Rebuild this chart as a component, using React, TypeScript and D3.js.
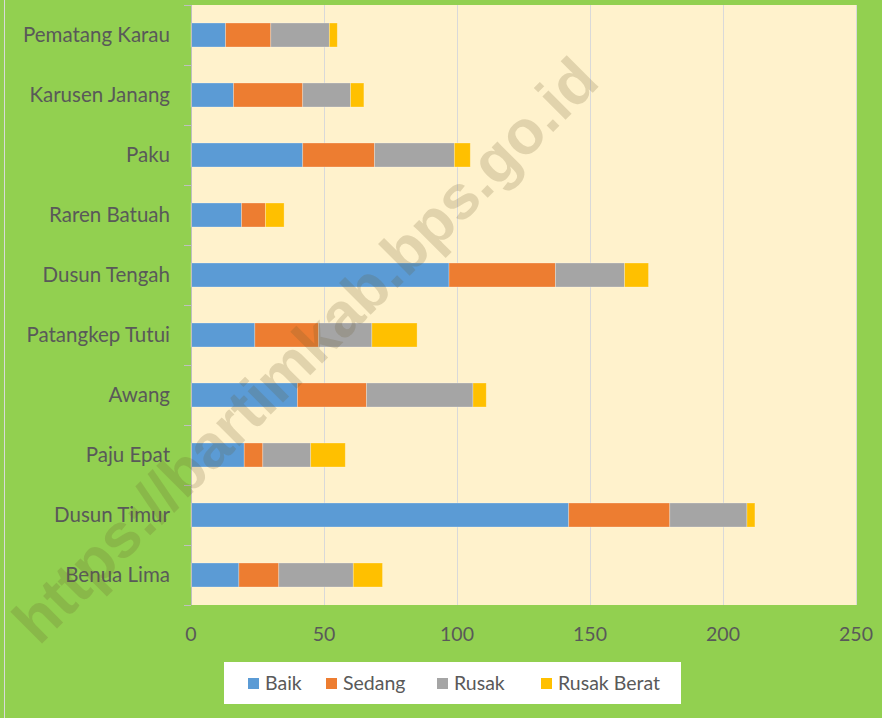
import React from "react";
import * as d3 from "d3";

const categories = [
  "Pematang Karau",
  "Karusen Janang",
  "Paku",
  "Raren Batuah",
  "Dusun Tengah",
  "Patangkep Tutui",
  "Awang",
  "Paju Epat",
  "Dusun Timur",
  "Benua Lima",
];
const seriesNames = ["Baik", "Sedang", "Rusak", "Rusak Berat"];
const baik = [13, 16, 42, 19, 97, 24, 40, 20, 142, 18];
const sedang = [17, 26, 27, 9, 40, 24, 26, 7, 38, 15];
const rusak = [22, 18, 30, 0, 26, 20, 40, 18, 29, 28];
const rusakBerat = [3, 5, 6, 7, 9, 17, 5, 13, 3, 11];
const xTicks = [0, 50, 100, 150, 200, 250];
const colors = ["#5B9BD5", "#ED7D31", "#A5A5A5", "#FFC000"];

const W = 882;
const H = 718;
const FONT = "Lato, 'Open Sans', sans-serif";
const TEXT = "#595959";

export default function App() {
  const rows = categories.map((c, i) => ({
    cat: c,
    Baik: baik[i],
    Sedang: sedang[i],
    Rusak: rusak[i],
    "Rusak Berat": rusakBerat[i],
  }));
  const stack = d3.stack<any>().keys(seriesNames)(rows);

  const plot = { left: 191, right: 856, top: 5, bottom: 605 };
  const x = d3.scaleLinear().domain([0, 250]).range([plot.left, plot.right]);
  const y = d3
    .scaleBand<string>()
    .domain(categories)
    .range([plot.top, plot.bottom])
    .paddingInner(0.6)
    .paddingOuter(0.3);
  const step = y.step();

  const legendX = [248, 326, 437, 541];

  return (
    <svg
      width={W}
      height={H}
      style={{ position: "absolute", left: 0, top: 0, display: "block" }}
      fontFamily={FONT}
    >
      <rect x={0} y={0} width={W} height={H} fill="#92D050" />
      <line x1={4.5} x2={4.5} y1={0} y2={H} stroke="#D9D9D9" strokeWidth={1} />
      <rect
        x={plot.left}
        y={plot.top}
        width={plot.right - plot.left}
        height={plot.bottom - plot.top}
        fill="#FFF2CC"
      />
      {xTicks.slice(1).map((t) => (
        <line
          key={"g" + t}
          x1={Math.round(x(t)) + 0.5}
          x2={Math.round(x(t)) + 0.5}
          y1={plot.top}
          y2={plot.bottom}
          stroke="#D9D9D9"
          strokeWidth={1}
        />
      ))}
      {stack.map((s, si) =>
        s.map((d, i) => {
          const w = x(d[1]) - x(d[0]);
          if (w <= 0) return null;
          return (
            <rect
              key={si + "-" + i}
              x={x(d[0])}
              y={y(categories[i])}
              width={w}
              height={y.bandwidth()}
              fill={colors[si]}
              stroke="#ffffff"
              strokeOpacity={0.35}
              strokeWidth={0.75}
            />
          );
        })
      )}
      {/* category axis */}
      <line
        x1={plot.left + 0.5}
        x2={plot.left + 0.5}
        y1={plot.top}
        y2={plot.bottom}
        stroke="#BFBFBF"
        strokeWidth={1}
      />
      {d3.range(categories.length + 1).map((k) => {
        const yy = Math.round(plot.top + k * step) + 0.5;
        return (
          <line
            key={"t" + k}
            x1={plot.left - 7}
            x2={plot.left}
            y1={yy}
            y2={yy}
            stroke="#BFBFBF"
            strokeWidth={1}
          />
        );
      })}
      {categories.map((c) => (
        <text
          key={c}
          x={170}
          y={(y(c) as number) + y.bandwidth() / 2 - 1.5}
          textAnchor="end"
          dominantBaseline="central"
          fontSize={20.5}
          fill={TEXT}
        >
          {c}
        </text>
      ))}
      {xTicks.map((t) => (
        <text
          key={"x" + t}
          x={x(t)}
          y={633}
          textAnchor="middle"
          dominantBaseline="central"
          fontSize={19.5}
          fill={TEXT}
        >
          {t}
        </text>
      ))}
      {/* legend */}
      <rect x={224} y={662} width={457} height={42} fill="#ffffff" />
      {seriesNames.map((n, i) => (
        <g key={n}>
          <rect x={legendX[i]} y={678} width={11} height={11} fill={colors[i]} />
          <text x={legendX[i] + 17} y={690} fontSize={19.5} fill={TEXT}>
            {n}
          </text>
        </g>
      ))}
      {/* watermark */}
      <text
        x={305}
        y={350}
        transform="rotate(-45 305 350)"
        textAnchor="middle"
        dominantBaseline="central"
        fontFamily="'Liberation Sans', Arial, sans-serif"
        fontWeight="bold"
        fontSize={62}
        fill="#6b5a2e"
        fillOpacity={0.2}
      >
        https://bartimkab.bps.go.id
      </text>
    </svg>
  );
}
